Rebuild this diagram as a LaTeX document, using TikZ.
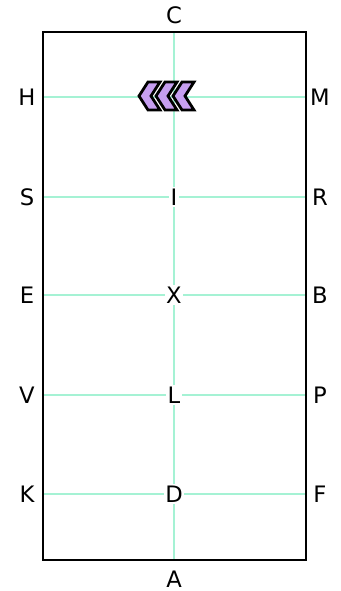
\documentclass[tikz,border=0pt]{standalone}
\usepackage{fontspec}
\setmainfont{DejaVu Sans}
\usetikzlibrary{calc}
\definecolor{gridmint}{RGB}{165,242,212}
\definecolor{chevfill}{RGB}{198,158,240}
\begin{document}
\begin{tikzpicture}[
        x=0.75pt, y=-0.75pt,
        letter/.style={font=\fontsize{17}{20}\selectfont, inner sep=1pt},
        midletter/.style={letter, fill=white},
        gridline/.style={draw=gridmint, line width=0.9pt},
        arena/.style={draw=black, line width=2.2pt},
        chevron/.style={draw=black, fill=chevfill, line width=2.1pt, line join=miter}
    ]
    \useasboundingbox (0,0) rectangle (341,591);

    % 1. X-coordinates
    \def\xL{27}
    \def\xM{174}
    \def\xR{320}
    \def\aL{43}
    \def\aR{306}
    \def\aT{32}
    \def\aB{560}

    % 2. Grid lines of the arena
    \draw[gridline] (\xM, \aT) -- (\xM, \aB);
    \foreach \yy in {97, 197, 295, 395}
        \draw[gridline] (\aL, \yy) -- (\aR, \yy);
    \draw[gridline, line width=1.2pt] (\aL, 494) -- (\aR, 494);

    % 3. Letters on the centre line
    \node[letter] (C) at (\xM, 15) {C};
    \node[letter] (A) at (\xM, 579) {A};
    \node[midletter] (I) at (\xM, 197) {I};
    \node[midletter] (X) at (\xM, 295) {X};
    \node[midletter] (L) at (\xM, 395) {L};
    \node[midletter] (D) at (\xM, 494) {D};

    % 4. Letters on the long sides
    \node[letter] (H) at (\xL, 97) {H};
    \node[letter] (S) at (\xL, 197) {S};
    \node[letter] (E) at (\xL, 295) {E};
    \node[letter] (V) at (\xL, 395) {V};
    \node[letter] (K) at (\xL, 494) {K};
    \node[letter] (M) at (\xR, 97) {M};
    \node[letter] (R) at (\xR, 197) {R};
    \node[letter] (B) at (\xR, 295) {B};
    \node[letter] (P) at (\xR, 395) {P};
    \node[letter] (F) at (\xR, 494) {F};

    % 5. Arena fence
    \draw[arena] (\aL, \aT) rectangle (\aR, \aB);

    % 6. Chevrons at H-M
    \foreach \tx in {173, 156, 139}
        \draw[chevron] (\tx, 96) -- ++(9,-14) -- ++(12,0) -- ++(-9,14)
            -- ++(9,14) -- ++(-12,0) -- cycle;
\end{tikzpicture}
\end{document}
